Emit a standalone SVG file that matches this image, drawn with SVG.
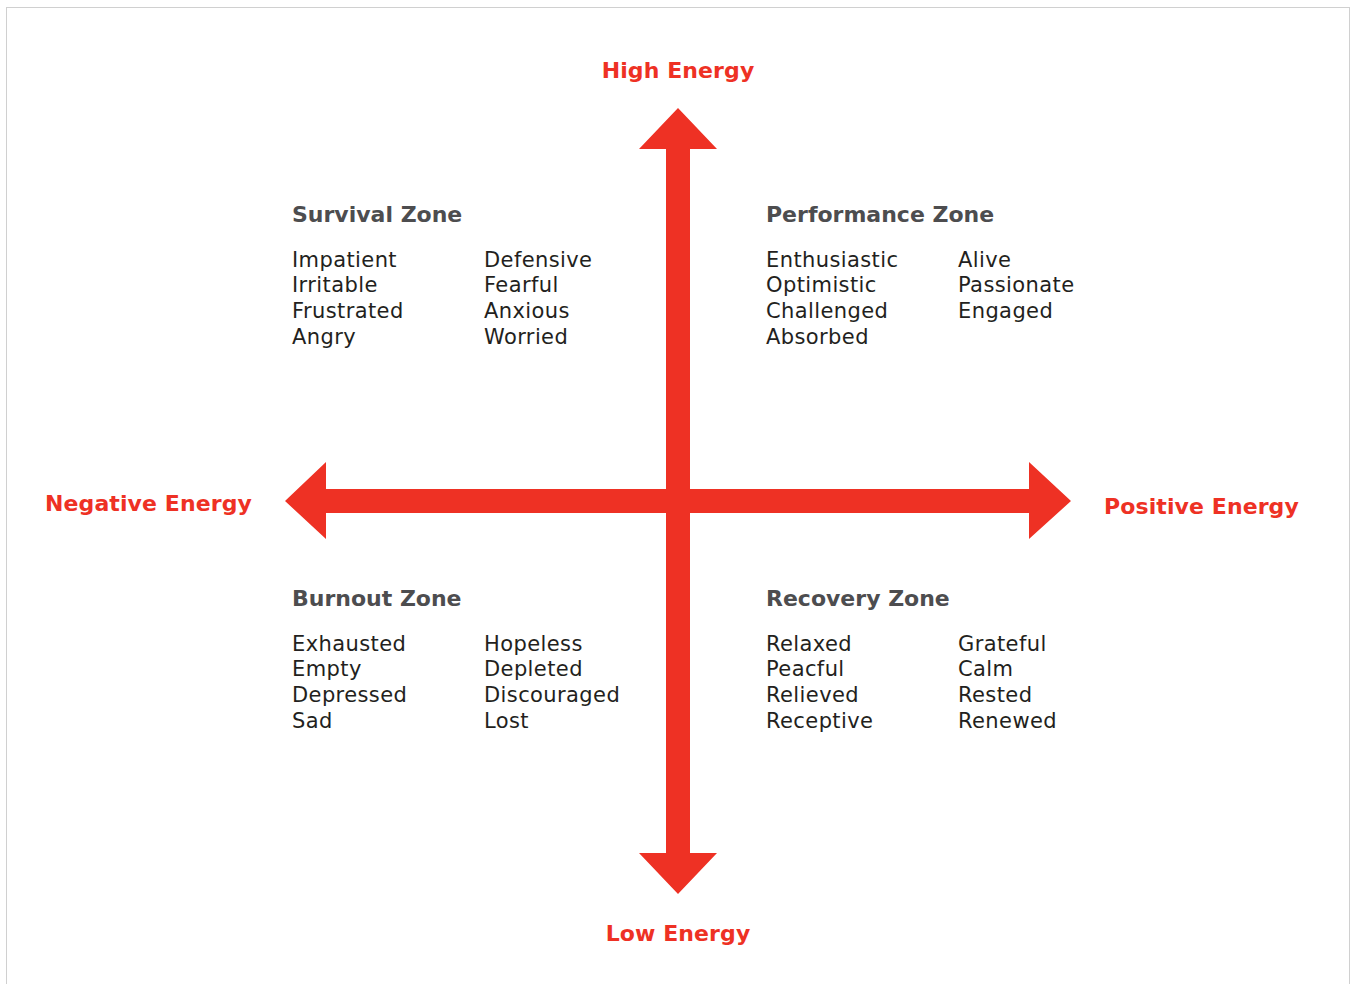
<svg xmlns="http://www.w3.org/2000/svg" width="1351" height="984" viewBox="0 0 1351 984">
<style>
.lbl{font-family:"DejaVu Sans",sans-serif;font-weight:bold;font-size:22px;fill:#ee3124;letter-spacing:0.1px}
.zone{font-family:"DejaVu Sans",sans-serif;font-weight:bold;font-size:22px;fill:#4d4d4f}
.item{font-family:"DejaVu Sans",sans-serif;font-size:21px;fill:#231f20;letter-spacing:0.4px}
.arrow{fill:#ee3124}
</style>
<rect x="0" y="0" width="1351" height="984" fill="#ffffff"/>
<rect x="6.5" y="7.5" width="1343" height="1000" fill="none" stroke="#d0d0d0" stroke-width="1"/>
<g id="connectors">
<path class="arrow" d="M678,108 L717,149 L690,149 L690,489 L1029,489 L1029,462 L1071,501 L1029,539 L1029,513 L690,513 L690,853 L717,853 L678,894 L639,853 L666,853 L666,513 L326,513 L326,539 L285,501 L326,462 L326,489 L666,489 L666,149 L639,149 Z"/>
</g>
<g id="high-energy"><text class="lbl" x="678" y="78" text-anchor="middle">High Energy</text></g>
<g id="low-energy"><text class="lbl" x="678" y="941" text-anchor="middle">Low Energy</text></g>
<g id="negative-energy"><text class="lbl" x="45" y="511">Negative Energy</text></g>
<g id="positive-energy"><text class="lbl" x="1104" y="514">Positive Energy</text></g>
<g id="survival-zone">
<text class="zone" x="292" y="222">Survival Zone</text>
<text class="item" x="292" y="267">Impatient</text>
<text class="item" x="292" y="292">Irritable</text>
<text class="item" x="292" y="318">Frustrated</text>
<text class="item" x="292" y="344">Angry</text>
<text class="item" x="484" y="267">Defensive</text>
<text class="item" x="484" y="292">Fearful</text>
<text class="item" x="484" y="318">Anxious</text>
<text class="item" x="484" y="344">Worried</text>
</g>
<g id="performance-zone">
<text class="zone" x="766" y="222">Performance Zone</text>
<text class="item" x="766" y="267">Enthusiastic</text>
<text class="item" x="766" y="292">Optimistic</text>
<text class="item" x="766" y="318">Challenged</text>
<text class="item" x="766" y="344">Absorbed</text>
<text class="item" x="958" y="267">Alive</text>
<text class="item" x="958" y="292">Passionate</text>
<text class="item" x="958" y="318">Engaged</text>
</g>
<g id="burnout-zone">
<text class="zone" x="292" y="606">Burnout Zone</text>
<text class="item" x="292" y="651">Exhausted</text>
<text class="item" x="292" y="676">Empty</text>
<text class="item" x="292" y="702">Depressed</text>
<text class="item" x="292" y="728">Sad</text>
<text class="item" x="484" y="651">Hopeless</text>
<text class="item" x="484" y="676">Depleted</text>
<text class="item" x="484" y="702">Discouraged</text>
<text class="item" x="484" y="728">Lost</text>
</g>
<g id="recovery-zone">
<text class="zone" x="766" y="606">Recovery Zone</text>
<text class="item" x="766" y="651">Relaxed</text>
<text class="item" x="766" y="676">Peacful</text>
<text class="item" x="766" y="702">Relieved</text>
<text class="item" x="766" y="728">Receptive</text>
<text class="item" x="958" y="651">Grateful</text>
<text class="item" x="958" y="676">Calm</text>
<text class="item" x="958" y="702">Rested</text>
<text class="item" x="958" y="728">Renewed</text>
</g>
</svg>
